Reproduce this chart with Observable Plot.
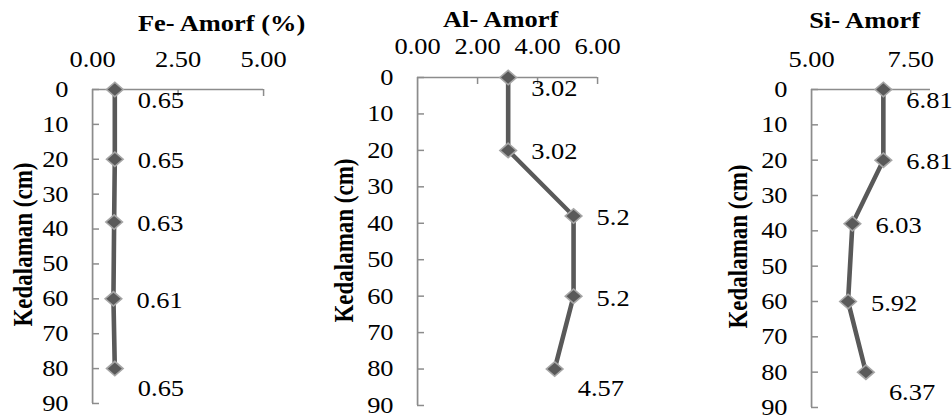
<!DOCTYPE html>
<html>
<head>
<meta charset="utf-8">
<script src="https://cdn.jsdelivr.net/npm/d3@7"></script>
<script src="https://cdn.jsdelivr.net/npm/@observablehq/plot@0.6"></script>
<style>
  html, body { margin: 0; padding: 0; background: #fff; }
  #wrap { position: relative; height: 419px; transform-origin: 0 0; }
  #wrap svg { position: absolute; left: 0; top: 0; overflow: visible; }
  #wrap svg text { font-family: "Liberation Serif", "Times New Roman", serif; }
</style>
</head>
<body>
<div id="wrap"></div>
<script>
// ---- data ----
const depth = [0, 20, 38, 60, 80];
const feValues = [0.65, 0.65, 0.63, 0.61, 0.65];
const alValues = [3.02, 3.02, 5.2, 5.2, 4.57];
const siValues = [6.81, 6.81, 6.03, 5.92, 6.37];
const depthTicks = [0, 10, 20, 30, 40, 50, 60, 70, 80, 90];
const feTicks = [0, 2.5, 5];
const alTicks = [0, 2, 4, 6];
const siTicks = [5, 7.5];
const titles = ["Fe- Amorf (%)", "Al- Amorf", "Si- Amorf"];
const yTitle = "Kedalaman (cm)";

// ---- layout (page pixels) / style ----
const S = 1.15;                 // horizontal stretch of the whole figure
const PW = 952, H = 419;
const W = PW / S;               // design width before the stretch
const panels = [
  {values: feValues, ticks: feTicks, domain: [0, 5], title: titles[0],
   frame: [92, 263, 89, 403], titleX: 221, titleY: 23, yTitleX: 22.5, yTitleY: 244},
  {values: alValues, ticks: alTicks, domain: [0, 6], title: titles[1],
   frame: [417, 597, 77, 405], titleX: 500, titleY: 19, yTitleX: 344, yTitleY: 240},
  {values: siValues, ticks: siTicks, domain: [5, 8], title: titles[2],
   frame: [811, 930, 89, 407], titleX: 864, titleY: 20, yTitleX: 738, yTitleY: 246}
];
const labelDy = [11, 1, 2, 2, 20];
const axisColor = "#8c8c8c";
const lineColor = "#595959";
const font = "'Liberation Serif', 'Times New Roman', serif";
const fs = 23;

const wrap = document.getElementById("wrap");
wrap.style.width = W + "px";
wrap.style.transform = `scaleX(${S})`;

for (const p of panels) {
  const rows = depth.map((d, i) => ({depth: d, value: p.values[i], i}));
  const [x0, x1, y0, y1] = p.frame;
  const mL = x0 / S, mR = W - x1 / S, mT = y0, mB = H - y1;
  const fw = W - mL - mR;
  const fh = H - mT - mB;
  const chart = Plot.plot({
    width: W, height: H,
    marginLeft: mL, marginRight: mR, marginTop: mT, marginBottom: mB,
    style: {fontFamily: font, fontSize: fs + "px", background: "transparent", color: "#000", overflow: "visible"},
    x: {domain: p.domain, axis: null},
    y: {domain: [0, 90], reverse: true, axis: null},
    marks: [
      // axis lines
      Plot.ruleX([p.domain[0]], {stroke: axisColor, strokeWidth: 1.5}),
      Plot.ruleY([0], {stroke: axisColor, strokeWidth: 1.5}),
      // inward ticks on depth axis
      Plot.tickY(depthTicks, {y: d => d, insetRight: fw - 7 / S, stroke: axisColor, strokeWidth: 1.5}),
      // inward ticks on value axis
      Plot.tickX(p.ticks.filter(t => t !== p.domain[0]), {x: d => d, insetBottom: fh - 7, stroke: axisColor, strokeWidth: 1.5 / S}),
      // depth tick labels
      Plot.text(depthTicks, {y: d => d, frameAnchor: "left", lineAnchor: "middle", dx: -24 / S, textAnchor: "end", text: d => String(d), fontSize: fs, fill: "#000"}),
      // value tick labels
      Plot.text(p.ticks, {x: d => d, frameAnchor: "top", lineAnchor: "middle", dy: (p.title === titles[1] ? 46 : 59) - mT, textAnchor: "middle", text: d => d3.format(".2f")(d), fontSize: fs, fill: "#000"}),
      // titles
      Plot.text([p.title], {frameAnchor: "top-left", lineAnchor: "middle", dx: p.titleX / S - mL, dy: p.titleY - mT, textAnchor: "middle", fontWeight: "bold", fontSize: fs, fill: "#000"}),
      Plot.text([yTitle], {frameAnchor: "left", lineAnchor: "middle", dx: p.yTitleX / S - mL, dy: p.yTitleY - (mT + fh / 2), rotate: -90, textAnchor: "middle", fontWeight: "bold", fontSize: fs, fill: "#000"}),
      // data
      Plot.line(rows, {x: "value", y: "depth", stroke: lineColor, strokeWidth: 4}),
      Plot.dot(rows, {x: "value", y: "depth", symbol: "diamond2", r: 6.5, fill: lineColor, stroke: "#a6a6a6", strokeWidth: 1.5}),
      // data labels
      ...rows.map((r, i) => Plot.text([r], {x: "value", y: "depth", dx: 23 / S, dy: labelDy[i], lineAnchor: "middle", textAnchor: "start", text: d => String(d.value), fontSize: fs, fill: "#000"}))
    ]
  });
  wrap.appendChild(chart);
}
</script>
</body>
</html>
